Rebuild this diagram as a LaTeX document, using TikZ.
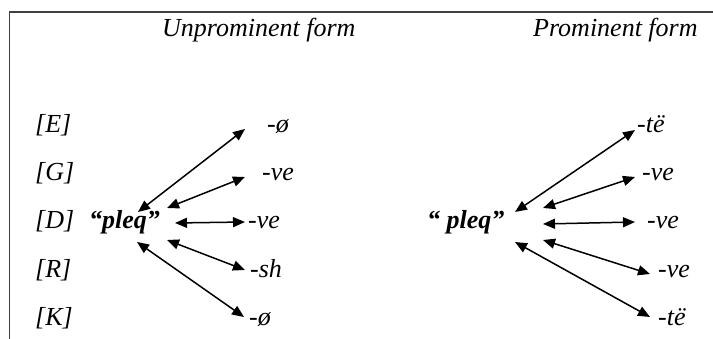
\documentclass[tikz,border=0pt]{standalone}
\usepackage{fontspec}
\setmainfont{Liberation Serif}
\usetikzlibrary{arrows.meta}

\begin{document}
\begin{tikzpicture}[
        x=1pt,y=-1pt,>={Triangle[length=12pt,width=10pt]},
        every node/.style={inner sep=0pt,font=\fontsize{26}{30}\selectfont\itshape},
        lbl/.style={anchor=base west},
        link/.style={<->,line width=1.5pt},
        ]
        \useasboundingbox (0,0) rectangle (713,339);
        \draw[line width=1.3pt,black!75] (9.5,339) -- (9.5,12) -- (713,12);

        % headings
        \node[lbl] (head_u) at (162,37) {Unprominent form};
        \node[lbl] (head_p) at (533,37) {Prominent form};

        % cases
        \node[lbl] (c_E) at (35,133) {[E]};
        \node[lbl] (c_G) at (35,181) {[G]};
        \node[lbl] (c_D) at (35,229) {[D]};
        \node[lbl] (c_R) at (35,278) {[R]};
        \node[lbl] (c_K) at (35,326) {[K]};

        % stems
        \node[lbl] (stem_u) at (89,229) {\bfseries “pleq”};
        \node[lbl] (stem_p) at (427,229) {\bfseries “ pleq”};

        % endings, unprominent
        \node[lbl] (u_E) at (267,133) {-ø};
        \node[lbl] (u_G) at (262,181) {-ve};
        \node[lbl] (u_D) at (248,229) {-ve};
        \node[lbl] (u_R) at (250,278) {-sh};
        \node[lbl] (u_K) at (249,326) {-ø};

        % endings, prominent
        \node[lbl] (p_E) at (637,133) {-të};
        \node[lbl] (p_G) at (642,181) {-ve};
        \node[lbl] (p_D) at (647,229) {-ve};
        \node[lbl] (p_R) at (658,278) {-ve};
        \node[lbl] (p_K) at (658,326) {-të};

        % arrow ends
        \coordinate (us1) at (138,212); \coordinate (ue1) at (245,129);
        \coordinate (us2) at (167,208); \coordinate (ue2) at (245,177);
        \coordinate (us3) at (175,223); \coordinate (ue3) at (245,222);
        \coordinate (us4) at (167,240); \coordinate (ue4) at (245,270);
        \coordinate (us5) at (137,242); \coordinate (ue5) at (244,317);
        \coordinate (ps1) at (515,212); \coordinate (pe1) at (635,130);
        \coordinate (ps2) at (543,208); \coordinate (pe2) at (635,177);
        \coordinate (ps3) at (543,224); \coordinate (pe3) at (635,222);
        \coordinate (ps4) at (543,240); \coordinate (pe4) at (650,274);
        \coordinate (ps5) at (515,242); \coordinate (pe5) at (650,317);

        \draw[link] (us1) -- (ue1);
        \draw[link] (us2) -- (ue2);
        \draw[link] (us3) -- (ue3);
        \draw[link] (us4) -- (ue4);
        \draw[link] (us5) -- (ue5);
        \draw[link] (ps1) -- (pe1);
        \draw[link] (ps2) -- (pe2);
        \draw[link] (ps3) -- (pe3);
        \draw[link] (ps4) -- (pe4);
        \draw[link] (ps5) -- (pe5);
\end{tikzpicture}
\end{document}
